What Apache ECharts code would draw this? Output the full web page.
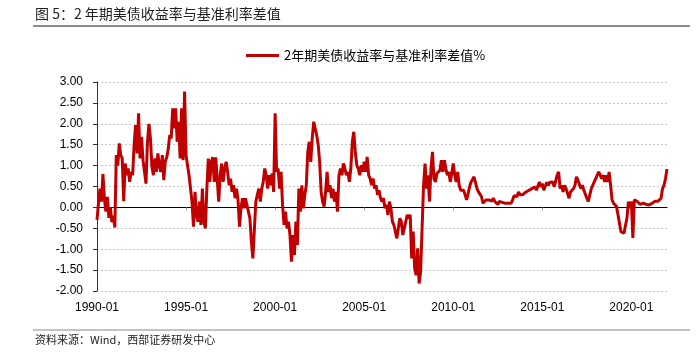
<!DOCTYPE html>
<html>
<head>
    <meta charset="utf-8">
    <script src="https://cdn.jsdelivr.net/npm/echarts@6/dist/echarts.min.js"></script>
    <style>
        html, body { margin: 0; padding: 0; background: #fff; }
        #main { width: 697px; height: 353px; }
    </style>
</head>
<body>
<div id="main"></div>
<script>
    // 2年期美债收益率 - 联邦基金利率，月度，1990-01 ~ 2022-01
    var spread1990s = [
        -0.30, 0.10, 0.45, 0.14, 0.80, 0.20, -0.10, 0.25, -0.25, 0.00, -0.35, -0.20,
        -0.48, 1.25, 1.00, 1.53, 1.25, 1.17, 0.15, 1.05, 0.77, 0.93, 0.61, 0.85,
        0.77, 1.50, 1.97, 1.29, 2.25, 1.17, 1.69, 1.13, 0.85, 0.57, 1.57, 2.00,
        1.65, 0.97, 0.77, 1.17, 0.85, 1.29, 1.00, 0.85, 1.25, 0.65, 1.10, 1.20,
        1.40, 1.73, 1.65, 2.37, 1.89, 2.37, 1.57, 2.05, 1.17, 2.37, 1.13, 2.77,
        1.25, 1.00, 0.77, 0.45, 0.14, -0.46, 0.37, -0.18, -0.34, 0.14, -0.42, 0.45,
        -0.34, -0.50, 0.45, 1.17, 0.61, 1.09, 1.20, 0.61, 1.20, 1.17, 0.14, 0.77,
        1.05, 0.61, 0.93, 1.09, 0.85, 0.53, 0.69, 0.37, 0.53, 0.22, 0.45, 0.18,
        -0.46, -0.02, 0.22, -0.02, 0.22, 0.06, -0.10, -0.26, -0.82, -1.22, -1.22, 0.14,
        0.30, 0.45, 0.14, 0.45, 0.61, 0.93, 0.77, 0.45, 0.77, 0.53, 0.81, 0.37
    ];
    var spread2000s = [
        2.25, 0.85, 0.93, 0.45, 0.85, 0.06, -0.42, -0.10, -0.50, -0.34, -0.66, -1.30,
        -0.66, -1.14, -0.34, -0.90, 0.45, -0.10, 0.53, -0.02, 0.30, 0.53, 1.33, 1.57,
        1.09, 1.65, 2.05, 2.09, 1.73, 1.50, 1.09, 0.37, 0.14, 0.02, 0.37, 0.85,
        0.37, 0.53, 0.22, 0.45, 0.14, 0.37, -0.10, 0.77, 0.93, 0.77, 1.05, 0.93,
        0.77, 0.85, 0.61, 0.93, 1.57, 1.81, 1.33, 1.01, 0.93, 0.77, 1.01, 0.85,
        1.09, 0.85, 1.21, 0.77, 0.69, 0.53, 0.69, 0.45, 0.53, 0.30, 0.41, 0.22,
        0.14, 0.22, -0.02, 0.06, -0.18, 0.14, -0.02, -0.34, -0.42, -0.58, -0.74, -0.50,
        -0.26, -0.34, -0.66, -0.50, -0.34, -0.18, -0.26, -0.18, -1.22, -0.58, -1.46, -1.62,
        -0.98, -1.82, -1.54, -0.50, 0.53, 1.05, 0.45, 0.77, 0.14, 0.93, 1.33, 0.69,
        0.61, 0.81, 0.85, 0.89, 1.13, 0.85, 1.13, 0.93, 0.77, 0.85, 0.61, 0.81
    ];
    var spread2010s = [
        1.05, 0.77, 0.61, 0.85, 0.53, 0.41, 0.37, 0.41, 0.30, 0.18, 0.33, 0.49,
        0.61, 0.57, 0.73, 0.69, 0.45, 0.37, 0.37, 0.26, 0.10, 0.14, 0.18, 0.15,
        0.18, 0.14, 0.15, 0.22, 0.14, 0.10, 0.07, 0.14, 0.15, 0.12, 0.15, 0.10,
        0.14, 0.10, 0.14, 0.10, 0.18, 0.28, 0.31, 0.26, 0.37, 0.30, 0.28, 0.31,
        0.30, 0.37, 0.33, 0.41, 0.37, 0.45, 0.41, 0.49, 0.41, 0.45, 0.61, 0.49,
        0.57, 0.41, 0.45, 0.60, 0.53, 0.60, 0.57, 0.61, 0.49, 0.53, 0.77, 0.85,
        0.45, 0.53, 0.37, 0.53, 0.45, 0.45, 0.22, 0.37, 0.33, 0.45, 0.53, 0.73,
        0.65, 0.61, 0.45, 0.53, 0.41, 0.45, 0.22, 0.14, 0.30, 0.45, 0.53, 0.61,
        0.69, 0.77, 0.85, 0.85, 0.69, 0.77, 0.61, 0.77, 0.61, 0.85, 0.53, 0.18,
        0.10, 0.14, 0.02, -0.18, -0.18, -0.58, -0.62, -0.62, -0.66, -0.26, 0.14, -0.02
    ];
    var spread2020s = [
        0.14, -0.73, 0.18, 0.18, 0.14, 0.11, 0.07, 0.04, 0.10, 0.06, 0.07, 0.04,
        0.06, 0.10, 0.10, 0.14, 0.15, 0.18, 0.15, 0.18, 0.22, 0.45, 0.53, 0.69,
        0.92
    ];
    var startYear = 1990;
    var yTicks = { min: -2, max: 3, step: 0.5 };

    var spread = spread1990s.concat(spread2000s, spread2010s, spread2020s);
    // 生成月份类目
    var months = [];
    for (var i = 0; i < spread.length; i++) {
        var y = startYear + Math.floor(i / 12);
        var m = i % 12 + 1;
        months.push(y + '-' + (m < 10 ? '0' + m : m));
    }

    var numFont = "'Liberation Sans', 'Noto Sans CJK SC', sans-serif";
    var cjkFont = "'Noto Sans CJK SC', 'Liberation Sans', sans-serif";

    var myChart = echarts.init(document.getElementById('main'), null, {renderer: 'canvas'});
    var option = {
        animation: false,
        backgroundColor: '#fff',
        grid: {left: 97, right: 30, top: 82, bottom: 62},
        legend: {
            data: ['2年期美债收益率与基准利率差值%'],
            left: 241,
            top: 44,
            icon: 'rect',
            itemWidth: 33,
            itemHeight: 3,
            textStyle: {fontSize: 13, color: '#000', fontFamily: cjkFont}
        },
        xAxis: [{
            type: 'category',
            data: months,
            boundaryGap: false,
            position: 'bottom',
            axisLine: {show: false, onZero: false},
            axisTick: {show: false},
            splitLine: {show: false},
            axisLabel: {
                interval: 59,
                margin: 11,
                color: '#000',
                fontSize: 12,
                fontFamily: numFont
            }
        }, {
            // 0 轴黑线
            type: 'category',
            data: months,
            boundaryGap: false,
            position: 'top',
            axisLine: {show: true, onZero: true, lineStyle: {color: '#000', width: 1.2}},
            axisTick: {show: true, inside: true, interval: 59, length: 3, lineStyle: {color: '#999'}},
            axisLabel: {show: false},
            splitLine: {show: false}
        }],
        yAxis: {
            type: 'value',
            min: yTicks.min,
            max: yTicks.max,
            interval: yTicks.step,
            axisLine: {show: true, onZero: false, lineStyle: {color: '#333'}},
            axisTick: {show: true, length: 4, lineStyle: {color: '#333'}},
            axisLabel: {
                margin: 14,
                color: '#000',
                fontSize: 12,
                fontFamily: numFont,
                formatter: function (v) { return v.toFixed(2); }
            },
            splitLine: {show: true, lineStyle: {color: '#c8c8c8', type: [2, 2]}}
        },
        series: [{
            name: '2年期美债收益率与基准利率差值%',
            type: 'line',
            xAxisIndex: 0,
            data: spread,
            showSymbol: false,
            symbol: 'none',
            lineStyle: {color: '#c00000', width: 3},
            itemStyle: {color: '#c00000'},
            z: 5
        }],
        graphic: [{
            type: 'text',
            x: 35, y: 14,
            style: {
                text: '图 5：2 年期美债收益率与基准利率差值',
                font: '14px ' + cjkFont,
                fill: '#222',
                verticalAlign: 'middle'
            }
        }, {
            type: 'line',
            shape: {x1: 33, y1: 26, x2: 690, y2: 26},
            style: {stroke: '#666', lineWidth: 1.5}
        }, {
            type: 'line',
            shape: {x1: 33, y1: 330, x2: 690, y2: 330},
            style: {stroke: '#888', lineWidth: 1}
        }, {
            type: 'text',
            x: 35, y: 340,
            style: {
                text: '资料来源：Wind，西部证券研发中心',
                font: '11px ' + cjkFont,
                fill: '#222',
                verticalAlign: 'middle'
            }
        }]
    };
    myChart.setOption(option);
</script>
</body>
</html>
